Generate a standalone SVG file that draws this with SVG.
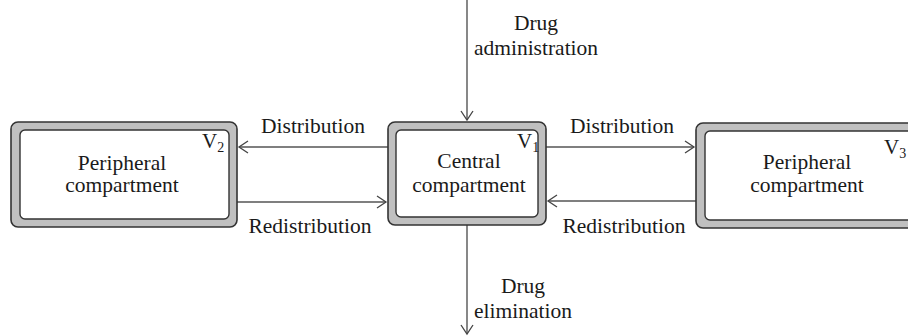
<svg xmlns="http://www.w3.org/2000/svg" width="908" height="336" viewBox="0 0 908 336">
<defs>
<marker id="arr" markerUnits="userSpaceOnUse" markerWidth="12" markerHeight="14" viewBox="0 0 12 14" refX="10" refY="7" orient="auto">
<path d="M1,1 L10,7 L1,13" fill="none" stroke="#444" stroke-width="1.3"/>
</marker>
<style>
.outer{fill:#c0c0c0;stroke:#333;stroke-width:1.6}
.inner{fill:#fff;stroke:#333;stroke-width:1.4}
text{font-family:"Liberation Serif","Times New Roman",serif;fill:#1a1a1a;font-size:21.5px}
.c{text-anchor:middle}
.v{font-size:21px}
.sub{font-size:14px}
.edge{fill:none;stroke:#555;stroke-width:1.4;marker-end:url(#arr)}
</style>
</defs>
<rect width="908" height="336" fill="#fff"/>
<g id="connectors">
<line class="edge" x1="467" y1="0" x2="467" y2="120"/>
<line class="edge" x1="467" y1="225" x2="467" y2="334"/>
<line class="edge" x1="388" y1="147" x2="239" y2="147"/>
<line class="edge" x1="237" y1="202" x2="386" y2="202"/>
<line class="edge" x1="546" y1="147" x2="694" y2="147"/>
<line class="edge" x1="696" y1="201" x2="548" y2="201"/>
</g>
<g id="labels">
<text class="c" x="536" y="30">Drug</text>
<text class="c" x="536" y="55">administration</text>
<text class="c" x="313" y="133">Distribution</text>
<text class="c" x="310" y="233">Redistribution</text>
<text class="c" x="622" y="133">Distribution</text>
<text class="c" x="624" y="233">Redistribution</text>
<text class="c" x="523" y="293">Drug</text>
<text class="c" x="523" y="318">elimination</text>
</g>
<g id="peripheral-v2">
<rect class="outer" x="11" y="122" width="226" height="105" rx="7"/>
<rect class="inner" x="20" y="130" width="209" height="89" rx="5"/>
<text class="c" x="122" y="170">Peripheral</text>
<text class="c" x="122" y="192">compartment</text>
<text class="v" x="202" y="148">V<tspan class="sub" dy="4">2</tspan></text>
</g>
<g id="central-v1">
<rect class="outer" x="388" y="122" width="158" height="103" rx="7"/>
<rect class="inner" x="396" y="130" width="142" height="87" rx="5"/>
<text class="c" x="469" y="168">Central</text>
<text class="c" x="469" y="192">compartment</text>
<text class="v" x="517" y="148">V<tspan class="sub" dy="4">1</tspan></text>
</g>
<g id="peripheral-v3">
<rect class="outer" x="696" y="123" width="225" height="105" rx="7"/>
<rect class="inner" x="705" y="131" width="210" height="89" rx="5"/>
<text class="c" x="807" y="169">Peripheral</text>
<text class="c" x="807" y="192">compartment</text>
<text class="v" x="884" y="154">V<tspan class="sub" dy="4">3</tspan></text>
</g>
</svg>
